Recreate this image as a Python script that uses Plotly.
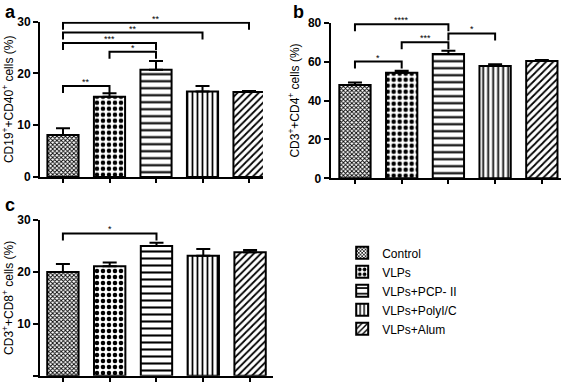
import plotly.graph_objects as go

groups = ["Control", "VLPs", "VLPs+PCP- II", "VLPs+PolyI/C", "VLPs+Alum"]
vals_a = [8.1, 15.5, 20.7, 16.5, 16.4]
err_a = [1.3, 0.7, 1.7, 1.1, 0.2]
vals_b = [48.0, 54.3, 63.9, 57.7, 60.3]
err_b = [1.2, 1.0, 1.7, 0.9, 0.5]
vals_c = [20.0, 21.1, 25.0, 23.1, 23.8]
err_c = [1.5, 0.7, 0.6, 1.3, 0.4]
# significance brackets: (from group, to group, height, label)
sig_a = [(0, 4, 29.8, "**"), (0, 3, 27.9, "**"), (0, 2, 25.9, "***"), (1, 2, 24.2, "*"), (0, 1, 17.6, "**")]
sig_b = [(0, 2, 79.2, "****"), (1, 2, 70.0, "***"), (2, 3, 74.5, "*"), (0, 1, 60.0, "*")]
sig_c = [(0, 2, 27.4, "*")]

patterns = [
    dict(shape="x", size=3, solidity=0.5),
    dict(shape=".", size=6, solidity=0.45),
    dict(shape="-", size=7, solidity=0.3),
    dict(shape="|", size=5, solidity=0.35),
    dict(shape="/", size=5, solidity=0.35),
]

FONT = "Liberation Sans, Arial, sans-serif"
fig = go.Figure()

panels = [
    ("x", "y", vals_a, err_a, sig_a, 7 / 5.18, True),
    ("x2", "y2", vals_b, err_b, sig_b, 7 / 1.945, False),
    ("x3", "y3", vals_c, err_c, sig_c, 7 / 5.19, False),
]

for xa, ya, vals, errs, sigs, drop, show in panels:
    for i, g in enumerate(groups):
        p = dict(patterns[i])
        p.update(fgcolor="black", bgcolor="white", fillmode="replace")
        fig.add_trace(go.Bar(
            x=[i], y=[vals[i]], name=g, xaxis=xa, yaxis=ya, width=0.67,
            marker=dict(color="white", pattern=p, line=dict(color="black", width=2)),
            error_y=dict(type="data", array=[errs[i]], arrayminus=[0], symmetric=False,
                         color="black", thickness=2, width=7),
            showlegend=show, legendgroup=g,
        ))
    for (i, j, h, lab) in sigs:
        fig.add_shape(type="path", xref=xa, yref=ya,
                      path=f"M {i},{h - drop} L {i},{h} L {j},{h} L {j},{h - drop}",
                      line=dict(color="black", width=2))
        fig.add_annotation(x=(i + j) / 2, y=h, xref=xa, yref=ya, text=lab, showarrow=False,
                           yanchor="bottom", yshift=-3, font=dict(size=9, color="black", family=FONT))

ax_common = dict(showline=True, linewidth=2, linecolor="black", ticks="outside", ticklen=5,
                 tickwidth=2, tickcolor="black", showgrid=False, zeroline=False, automargin=False)
xcommon = dict(ax_common, tickvals=[0, 1, 2, 3, 4], showticklabels=False, ticklen=4)
ycommon = dict(ax_common, tickfont=dict(size=12, family=FONT, color="black", weight="bold"))
tfont = dict(size=12, family=FONT, color="black")

fig.update_layout(
    template="none",
    width=567, height=382, margin=dict(l=0, r=0, t=0, b=0),
    paper_bgcolor="white", plot_bgcolor="white", barmode="overlay",
    font=dict(family=FONT, color="black"),
    xaxis=dict(xcommon, domain=[0.0705, 0.4638], range=[-0.495, 4.3], anchor="y"),
    yaxis=dict(ycommon, domain=[0.5366, 0.9432], range=[0, 30], dtick=10, anchor="x",
               title=dict(text="CD19<sup>+</sup>+CD40<sup>+</sup> cells (%)", font=tfont, standoff=6)),
    xaxis2=dict(xcommon, domain=[0.5832, 0.9894], range=[-0.52, 4.41], anchor="y2"),
    yaxis2=dict(ycommon, domain=[0.5332, 0.9406], range=[0, 80], dtick=20, anchor="x2",
                title=dict(text="CD3<sup>+</sup>+CD4<sup>+</sup> cells (%)", font=tfont, standoff=6)),
    xaxis3=dict(xcommon, domain=[0.0705, 0.4815], range=[-0.49, 4.49], anchor="y3"),
    yaxis3=dict(ycommon, domain=[0.0165, 0.4241], range=[0, 30], dtick=10, anchor="x3",
                title=dict(text="CD3<sup>+</sup>+CD8<sup>+</sup> cells (%)", font=tfont, standoff=6)),
    legend=dict(x=0.6035, y=0.376, xanchor="left", yanchor="top", tracegroupgap=0,
                font=dict(size=12, family=FONT, color="black"), bgcolor="rgba(0,0,0,0)"),
)

for txt, x, y in [("a", 0.005, 1.0), ("b", 0.513, 1.0), ("c", 0.005, 0.495)]:
    fig.add_annotation(text=txt, x=x, y=y, xref="paper", yref="paper", showarrow=False,
                       xanchor="left", yanchor="top", font=dict(size=18, family=FONT, weight="bold"))

fig.write_html("out.html", config={"displayModeBar": False},
               post_script="document.body.style.margin='0';document.body.style.overflow='hidden';")
